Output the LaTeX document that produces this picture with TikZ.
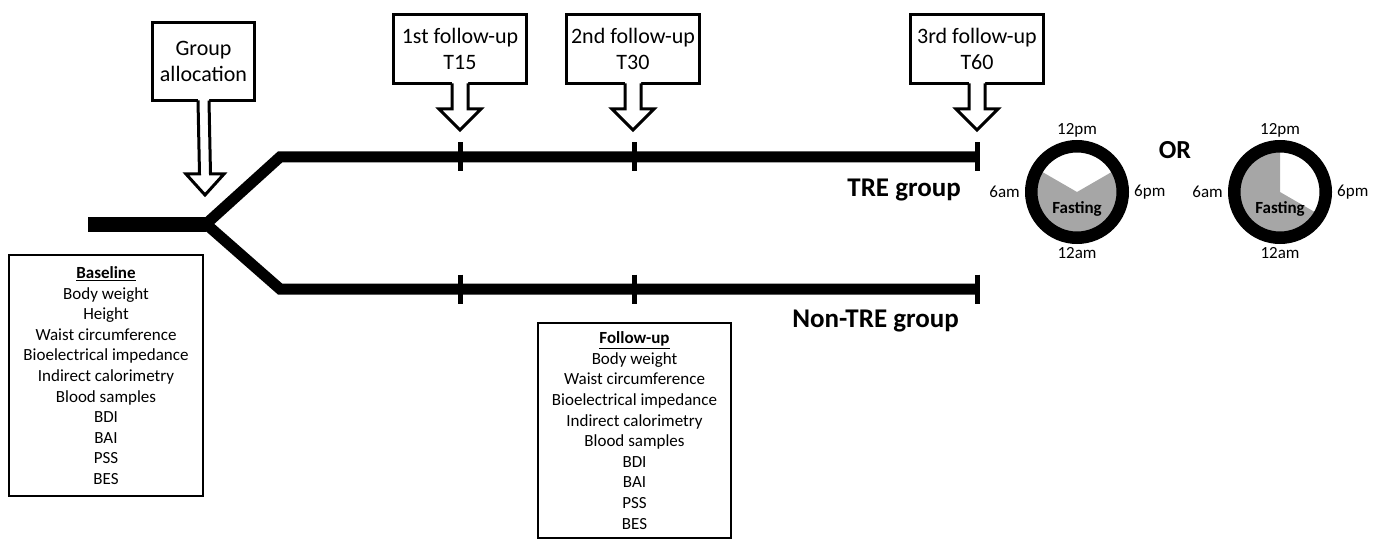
\documentclass[tikz,border=0pt]{standalone}
\usepackage{fontspec}
\setmainfont{Carlito}
\usetikzlibrary{positioning, calc}
\definecolor{jeune}{HTML}{A6A6A6}

% fleche bloc : boite, pointe, demi-tige, demi-tete, longueur tete
\newcommand{\flechebloc}[5]{%
  \fill[white] ($(#1.south)+(-#3,-3.5)$) -- ($(#2)+(-#3,-#5)$) -- ($(#2)+(-#4,-#5)$) -- (#2) -- ($(#2)+(#4,-#5)$) -- ($(#2)+(#3,-#5)$) -- ($(#1.south)+(#3,-3.5)$) -- cycle;
  \draw[fleche] ($(#1.south)+(-#3,-1.5)$) -- ($(#2)+(-#3,-#5)$) -- ($(#2)+(-#4,-#5)$) -- (#2) -- ($(#2)+(#4,-#5)$) -- ($(#2)+(#3,-#5)$) -- ($(#1.south)+(#3,-1.5)$);
}

\begin{document}
\begin{tikzpicture}[x=1pt, y=-1pt]
        % Style des noeuds
        \tikzstyle{boite} = [rectangle, draw=black, line width=3, fill=white, align=center, inner sep=2, font=\fontsize{22}{26}\selectfont]
        \tikzstyle{liste} = [rectangle, draw=black, line width=1.5, align=center, inner sep=2, font=\fontsize{17}{20.6}\selectfont]
        \tikzstyle{fleche} = [line width=3, miter limit=20]
        \tikzstyle{voie} = [line width=11]
        \tikzstyle{repere} = [line width=5]
        \tikzstyle{groupe} = [anchor=east, inner sep=0, font=\fontsize{27}{30}\selectfont\bfseries]
        \tikzstyle{horloge} = [circle, draw=black, line width=12.5, minimum size=91.5, inner sep=0]
        \tikzstyle{heure} = [inner sep=1, font=\fontsize{17}{20}\selectfont]

        \useasboundingbox (0,0) rectangle (1383,540);

        % Ligne du temps
        \coordinate (debut) at (88,224);
        \coordinate (fourche) at (206,224);
        \coordinate (hautA) at (280,157);
        \coordinate (hautB) at (977,157);
        \coordinate (basA) at (280,289);
        \coordinate (basB) at (977,289);
        \coordinate (h1) at (460,157);
        \coordinate (h2) at (634,157);
        \coordinate (b1) at (460,289);
        \coordinate (b2) at (634,289);

        \draw [line width=15] (debut) -- (fourche);
        \draw [voie] (hautB) -- (hautA) -- (fourche) -- (basA) -- (basB);
        \foreach \c in {h1, h2, hautB, b1, b2, basB}
            \draw [repere] ($(\c)+(0,-14.5)$) -- ($(\c)+(0,14.5)$);

        % Boites du haut
        \node (allocation) [boite, minimum width=102, minimum height=78] at (203.5,61.5) {Group\\allocation};
        \node (suivi1) [boite, minimum width=133, minimum height=69] at (460,49) {1st follow-up\\T15};
        \node (suivi2) [boite, minimum width=133, minimum height=69] at (633,49) {2nd follow-up\\T30};
        \node (suivi3) [boite, minimum width=133, minimum height=69] at (977,49) {3rd follow-up\\T60};

        % Flèches
        \coordinate (pA) at (205,195);
        \coordinate (p1) at (460,130);
        \coordinate (p2) at (633,130);
        \coordinate (p3) at (977,130);
        \flechebloc{allocation}{pA}{5.5}{19}{21}
        \flechebloc{suivi1}{p1}{8}{21}{21}
        \flechebloc{suivi2}{p2}{8}{21}{21}
        \flechebloc{suivi3}{p3}{8}{21}{21}

        % Groupes
        \node (tre) [groupe] at (961,190) {TRE group};
        \node (nontre) [groupe] at (959,321) {Non-TRE group};

        % Mesures
        \node (baseline) [liste, minimum width=194, minimum height=241] at (106,375.5) {\underline{\textbf{Baseline}}\\Body weight\\Height\\Waist circumference\\Bioelectrical impedance\\Indirect calorimetry\\Blood samples\\BDI\\BAI\\PSS\\BES};
        \node (followup) [liste, minimum width=193, minimum height=215] at (634.5,430.5) {\underline{\textbf{Follow-up}}\\Body weight\\Waist circumference\\Bioelectrical impedance\\Indirect calorimetry\\Blood samples\\BDI\\BAI\\PSS\\BES};

        % Horloges
        \coordinate (cA) at (1077,192);
        \coordinate (cB) at (1280,192);
        \fill [jeune] (cA) -- ++(-150:40) arc [start angle=-150, end angle=-390, radius=40] -- cycle;
        \fill [jeune] (cB) -- ++(-90:40) arc [start angle=-90, end angle=-330, radius=40] -- cycle;
        \node (horlogeA) [horloge] at (cA) {};
        \node (horlogeB) [horloge] at (cB) {};
        \node [font=\fontsize{17}{20}\selectfont\bfseries] at ($(cA)+(0,17)$) {Fasting};
        \node [font=\fontsize{17}{20}\selectfont\bfseries] at ($(cB)+(0,17)$) {Fasting};
        \node [heure, above=2pt of horlogeA] {12pm};
        \node [heure, below=2pt of horlogeA] {12am};
        \node [heure, left=4pt of horlogeA] {6am};
        \node [heure, right=4pt of horlogeA] {6pm};
        \node [heure, above=2pt of horlogeB] {12pm};
        \node [heure, below=2pt of horlogeB] {12am};
        \node [heure, left=4pt of horlogeB] {6am};
        \node [heure, right=4pt of horlogeB] {6pm};
        \node (ou) [font=\fontsize{26}{30}\selectfont\bfseries] at (1175,150) {OR};
    \end{tikzpicture}
\end{document}
